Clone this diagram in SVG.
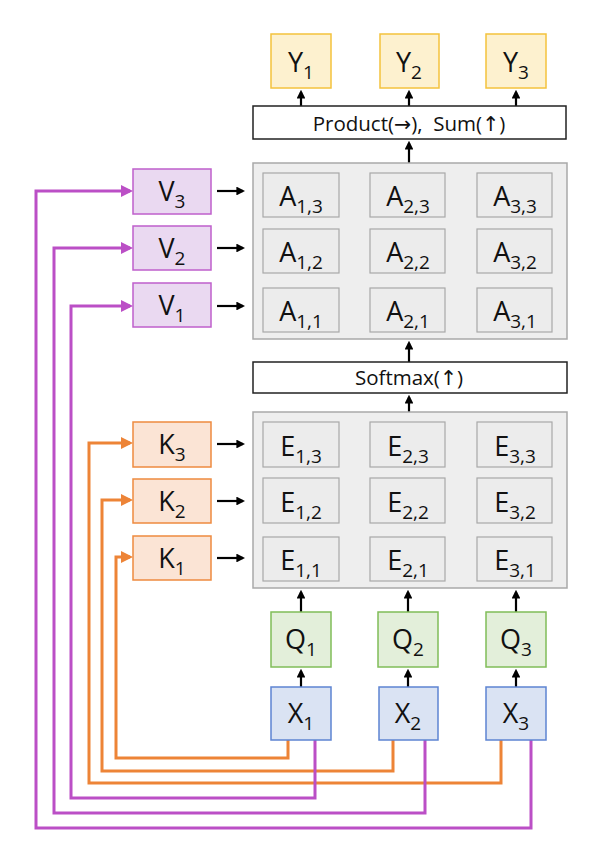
<svg xmlns="http://www.w3.org/2000/svg" width="596" height="860" viewBox="0 0 596 860">
<defs>
<marker id="ab" markerWidth="4" markerHeight="4" refX="3" refY="2" orient="auto" markerUnits="strokeWidth"><path d="M0,0 L4,2 L0,4 Z" fill="#000"/></marker>
<marker id="ap" markerWidth="4" markerHeight="4" refX="3" refY="2" orient="auto" markerUnits="strokeWidth"><path d="M0,0 L4,2 L0,4 Z" fill="#bb4fc6"/></marker>
<marker id="ao" markerWidth="4" markerHeight="4" refX="3" refY="2" orient="auto" markerUnits="strokeWidth"><path d="M0,0 L4,2 L0,4 Z" fill="#ed8437"/></marker>
</defs>
<style>
text{font-family:"Open Sans","Liberation Sans",sans-serif;fill:#111;text-anchor:middle}
.big{font-size:27px}
.sub{font-size:19px}
.ar{font-family:"DejaVu Sans",sans-serif}
.y{fill:#fdf1cf;stroke:#f4c23c;stroke-width:1.5}
.v{fill:#ead9f1;stroke:#bf5fcb;stroke-width:1.5}
.k{fill:#fbe4d5;stroke:#ee8a3f;stroke-width:1.5}
.q{fill:#e3efda;stroke:#80bd58;stroke-width:1.5}
.x{fill:#dae3f3;stroke:#5d84d2;stroke-width:1.5}
.grp{fill:#eeeeee;stroke:#a9a9a9;stroke-width:1.5}
.cell{fill:#ececec;stroke:#a8a8a8;stroke-width:1.2}
.op{fill:#fff;stroke:#222;stroke-width:1.5}
.blk{stroke:#000;stroke-width:2.2;fill:none;marker-end:url(#ab)}
.pur{stroke:#bb4fc6;stroke-width:3;fill:none;marker-end:url(#ap)}
.org{stroke:#ed8437;stroke-width:3;fill:none;marker-end:url(#ao)}
.lab{font-size:20.5px;white-space:pre}
</style>

<g id="connectors">
<path class="blk" d="M301,106 V92"/>
<path class="blk" d="M409,106 V92"/>
<path class="blk" d="M516,106 V92"/>
<path class="blk" d="M409,163 V143"/>
<path class="blk" d="M409,362 V343"/>
<path class="blk" d="M409,412 V397"/>
<path class="blk" d="M217,191 H243"/>
<path class="blk" d="M217,248 H243"/>
<path class="blk" d="M217,306 H243"/>
<path class="blk" d="M217,444 H243"/>
<path class="blk" d="M217,501 H243"/>
<path class="blk" d="M217,558 H243"/>
<path class="blk" d="M301,612 V592"/>
<path class="blk" d="M408,612 V592"/>
<path class="blk" d="M516,612 V592"/>
<path class="blk" d="M301,687 V671"/>
<path class="blk" d="M408,687 V671"/>
<path class="blk" d="M516,687 V671"/>
<path class="org" d="M288,740 V758 H116 V557 H130"/>
<path class="org" d="M393,740 V771 H102 V500 H130"/>
<path class="org" d="M501,740 V783 H89 V443 H130"/>
<path class="pur" d="M315,740 V798 H71 V306 H130"/>
<path class="pur" d="M425,740 V813 H54 V248 H130"/>
<path class="pur" d="M531,740 V828 H36 V191 H130"/>
</g>

<g id="Y1"><rect class="y" x="271" y="34" width="60" height="54"/><text x="301" y="72" class="big">Y<tspan class="sub" dy="7">1</tspan></text></g>
<g id="Y2"><rect class="y" x="380" y="34" width="59" height="54"/><text x="409" y="72" class="big">Y<tspan class="sub" dy="7">2</tspan></text></g>
<g id="Y3"><rect class="y" x="486" y="34" width="60" height="54"/><text x="516" y="72" class="big">Y<tspan class="sub" dy="7">3</tspan></text></g>

<g id="product"><rect class="op" x="253" y="106" width="313" height="33"/><text x="409" y="131" class="lab">Product(<tspan class="ar">→</tspan>),  Sum(<tspan class="ar">↑</tspan>)</text></g>

<g id="Agrid">
<rect class="grp" x="253" y="163" width="314" height="176"/>
<rect class="cell" x="263" y="173" width="76" height="44"/><text x="301" y="206" class="big">A<tspan class="sub" dy="7">1,3</tspan></text>
<rect class="cell" x="370" y="173" width="75" height="44"/><text x="408" y="206" class="big">A<tspan class="sub" dy="7">2,3</tspan></text>
<rect class="cell" x="477" y="173" width="75" height="44"/><text x="515" y="206" class="big">A<tspan class="sub" dy="7">3,3</tspan></text>
<rect class="cell" x="263" y="229" width="76" height="44"/><text x="301" y="262" class="big">A<tspan class="sub" dy="7">1,2</tspan></text>
<rect class="cell" x="370" y="229" width="75" height="44"/><text x="408" y="262" class="big">A<tspan class="sub" dy="7">2,2</tspan></text>
<rect class="cell" x="477" y="229" width="75" height="44"/><text x="515" y="262" class="big">A<tspan class="sub" dy="7">3,2</tspan></text>
<rect class="cell" x="263" y="288" width="76" height="44"/><text x="301" y="321" class="big">A<tspan class="sub" dy="7">1,1</tspan></text>
<rect class="cell" x="370" y="288" width="75" height="44"/><text x="408" y="321" class="big">A<tspan class="sub" dy="7">2,1</tspan></text>
<rect class="cell" x="477" y="288" width="75" height="44"/><text x="515" y="321" class="big">A<tspan class="sub" dy="7">3,1</tspan></text>
</g>

<g id="softmax"><rect class="op" x="253" y="362" width="314" height="31"/><text x="409" y="385" class="lab">Softmax(<tspan class="ar">↑</tspan>)</text></g>

<g id="Egrid">
<rect class="grp" x="253" y="412" width="314" height="176"/>
<rect class="cell" x="263" y="422" width="76" height="45"/><text x="301" y="456" class="big">E<tspan class="sub" dy="7">1,3</tspan></text>
<rect class="cell" x="370" y="422" width="75" height="45"/><text x="408" y="456" class="big">E<tspan class="sub" dy="7">2,3</tspan></text>
<rect class="cell" x="477" y="422" width="75" height="45"/><text x="515" y="456" class="big">E<tspan class="sub" dy="7">3,3</tspan></text>
<rect class="cell" x="263" y="478" width="76" height="45"/><text x="301" y="512" class="big">E<tspan class="sub" dy="7">1,2</tspan></text>
<rect class="cell" x="370" y="478" width="75" height="45"/><text x="408" y="512" class="big">E<tspan class="sub" dy="7">2,2</tspan></text>
<rect class="cell" x="477" y="478" width="75" height="45"/><text x="515" y="512" class="big">E<tspan class="sub" dy="7">3,2</tspan></text>
<rect class="cell" x="263" y="537" width="76" height="44"/><text x="301" y="570" class="big">E<tspan class="sub" dy="7">1,1</tspan></text>
<rect class="cell" x="370" y="537" width="75" height="44"/><text x="408" y="570" class="big">E<tspan class="sub" dy="7">2,1</tspan></text>
<rect class="cell" x="477" y="537" width="75" height="44"/><text x="515" y="570" class="big">E<tspan class="sub" dy="7">3,1</tspan></text>
</g>

<g id="V3"><rect class="v" x="133" y="169" width="78" height="45"/><text x="172" y="201" class="big">V<tspan class="sub" dy="7">3</tspan></text></g>
<g id="V2"><rect class="v" x="133" y="226" width="78" height="44"/><text x="172" y="258" class="big">V<tspan class="sub" dy="7">2</tspan></text></g>
<g id="V1"><rect class="v" x="133" y="283" width="78" height="44"/><text x="172" y="315" class="big">V<tspan class="sub" dy="7">1</tspan></text></g>

<g id="K3"><rect class="k" x="133" y="422" width="78" height="45"/><text x="172" y="454" class="big">K<tspan class="sub" dy="7">3</tspan></text></g>
<g id="K2"><rect class="k" x="133" y="479" width="78" height="44"/><text x="172" y="511" class="big">K<tspan class="sub" dy="7">2</tspan></text></g>
<g id="K1"><rect class="k" x="133" y="536" width="78" height="44"/><text x="172" y="568" class="big">K<tspan class="sub" dy="7">1</tspan></text></g>

<g id="Q1"><rect class="q" x="271" y="612" width="60" height="55"/><text x="301" y="649" class="big">Q<tspan class="sub" dy="7">1</tspan></text></g>
<g id="Q2"><rect class="q" x="378" y="612" width="60" height="55"/><text x="408" y="649" class="big">Q<tspan class="sub" dy="7">2</tspan></text></g>
<g id="Q3"><rect class="q" x="486" y="612" width="60" height="55"/><text x="516" y="649" class="big">Q<tspan class="sub" dy="7">3</tspan></text></g>

<g id="X1"><rect class="x" x="271" y="687" width="60" height="53"/><text x="301" y="723" class="big">X<tspan class="sub" dy="7">1</tspan></text></g>
<g id="X2"><rect class="x" x="379" y="687" width="59" height="53"/><text x="408" y="723" class="big">X<tspan class="sub" dy="7">2</tspan></text></g>
<g id="X3"><rect class="x" x="486" y="687" width="60" height="53"/><text x="516" y="723" class="big">X<tspan class="sub" dy="7">3</tspan></text></g>
</svg>
